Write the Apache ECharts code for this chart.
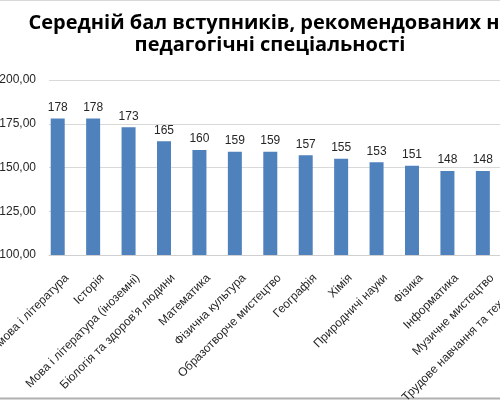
<!DOCTYPE html>
<html>
<head>
<meta charset="utf-8">
<script src="https://cdn.jsdelivr.net/npm/echarts@6/dist/echarts.min.js"></script>
<style>
html,body{margin:0;padding:0;overflow:hidden;background:#fff;width:500px;height:400px;}
#c{position:absolute;left:0;top:0;width:560px;height:400px;}
</style>
</head>
<body>
<div id="c"></div>
<script>
const titleText = 'Середній бал вступників, рекомендованих на\nпедагогічні спеціальності';
const categories = [
  'Українська мова і література',
  'Історія',
  'Мова і література (іноземні)',
  'Біологія та здоров’я людини',
  'Математика',
  'Фізична культура',
  'Образотворче мистецтво',
  'Географія',
  'Хімія',
  'Природничі науки',
  'Фізика',
  'Інформатика',
  'Музичне мистецтво',
  'Трудове навчання та технології'
];
const scores = [178, 178, 173, 165, 160, 159, 159, 157, 155, 153, 151, 148, 148, 146];
const yMin = 100, yMax = 200, yStep = 25;

const chart = echarts.init(document.getElementById('c'), null, {renderer: 'canvas'});
chart.setOption({
  animation: false,
  backgroundColor: '#fff',
  title: {
    text: titleText,
    left: 265,
    top: 7,
    textAlign: 'center',
    textStyle: {fontFamily: 'Open Sans', fontWeight: 'bold', fontSize: 20, lineHeight: 22, color: '#000'}
  },
  graphic: [
    {type: 'line', shape: {x1: 0, y1: 0.5, x2: 560, y2: 0.5}, style: {stroke: '#d9d9d9', lineWidth: 1}},
    {type: 'line', shape: {x1: 0, y1: 398.5, x2: 560, y2: 398.5}, style: {stroke: '#b0b0b0', lineWidth: 2}}
  ],
  grid: [
    {left: 40, right: 24, top: 80, bottom: 145, containLabel: false, outerBoundsMode: 'none'},
    {left: 49, right: 24, top: 80, bottom: 145, containLabel: false, outerBoundsMode: 'none'}
  ],
  xAxis: [{
    type: 'category',
    gridIndex: 0,
    data: categories,
    axisTick: {show: false},
    axisLine: {show: false},
    axisLabel: {
      interval: 0, rotate: 45, margin: 2,
      verticalAlign: 'top', padding: [14, 7, 0, 0],
      fontFamily: 'Liberation Sans', fontSize: 12, color: '#262626'
    }
  }, {
    type: 'value',
    gridIndex: 1,
    min: 0, max: 1,
    axisTick: {show: false},
    axisLabel: {show: false},
    splitLine: {show: false},
    axisLine: {show: true, onZero: false, lineStyle: {color: '#d0d0d0'}}
  }],
  yAxis: [{
    type: 'value',
    gridIndex: 0,
    min: yMin, max: yMax, interval: yStep,
    axisLine: {show: false},
    axisTick: {show: false},
    splitLine: {show: false},
    axisLabel: {
      margin: 4,
      fontFamily: 'Liberation Sans', fontSize: 12, color: '#262626',
      formatter: v => v.toFixed(2).replace('.', ',')
    }
  }, {
    type: 'value',
    gridIndex: 1,
    min: yMin, max: yMax, interval: yStep,
    axisLine: {show: false},
    axisTick: {show: false},
    axisLabel: {show: false},
    splitLine: {lineStyle: {color: '#d9d9d9'}}
  }],
  series: [{
    type: 'bar',
    xAxisIndex: 0,
    yAxisIndex: 0,
    data: scores,
    barWidth: 14,
    z: 3,
    itemStyle: {color: '#4f81bd'},
    label: {show: true, position: 'top', distance: 5, fontFamily: 'Liberation Sans', fontSize: 12, color: '#262626'}
  }]
});
</script>
</body>
</html>
